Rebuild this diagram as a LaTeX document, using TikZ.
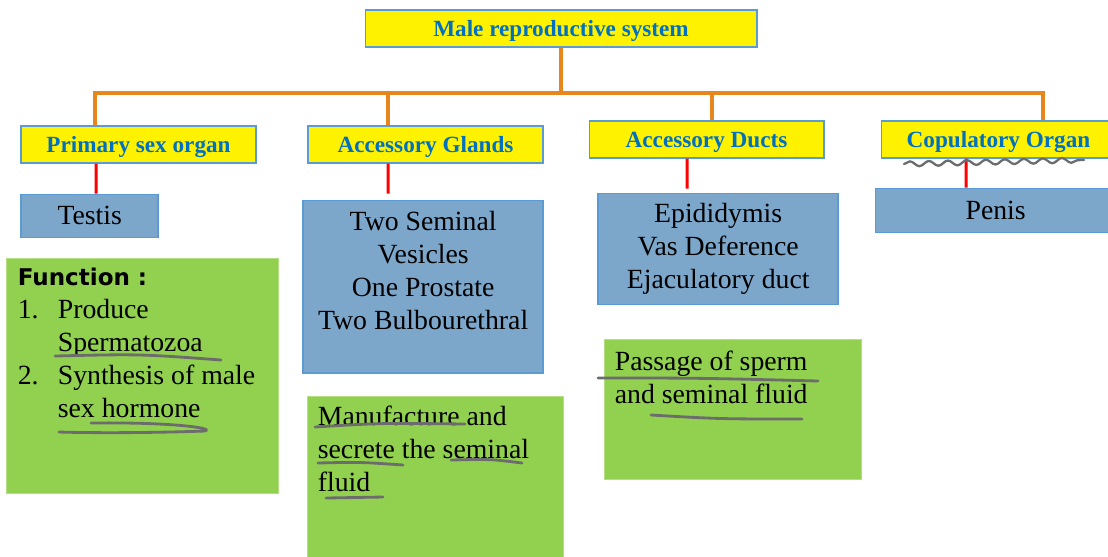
\documentclass[tikz,border=0pt]{standalone}
\usepackage{fontspec}
\setmainfont{Liberation Serif}
\newfontfamily\fnfont{DejaVu Sans}
\usepackage{xcolor}
\usepackage{tikz}
\usetikzlibrary{positioning, calc, decorations.pathmorphing}
\definecolor{headblue}{RGB}{0,112,192}
\definecolor{edgeblue}{RGB}{91,155,213}
\definecolor{steel}{RGB}{124,167,203}
\definecolor{leaf}{RGB}{146,208,80}
\definecolor{busorange}{RGB}{232,134,30}
\definecolor{inkgray}{RGB}{108,108,108}
\newcommand{\bodyfont}{\fontsize{15.8}{18.8}\selectfont}
\newcommand{\headfont}{\fontsize{13.2}{16}\selectfont\bfseries}
\tikzset{
        headbox/.style={rectangle, draw=edgeblue, fill=yellow, line width=0.6pt, minimum width=4.7cm, minimum height=0.74cm, inner sep=0pt, text height=0.32cm, text depth=0pt, font=\headfont, text=headblue},
        bluebox/.style={rectangle, draw=edgeblue, fill=steel, line width=0.8pt, inner sep=0pt, align=center, font=\bodyfont, anchor=north west},
        greenbox/.style={rectangle, draw=leaf!70!white, fill=leaf, line width=0.5pt, inner sep=0pt, anchor=north west},
        notetext/.style={anchor=base west, inner sep=0pt, align=left, font=\bodyfont},
        orangeline/.style={busorange, line width=2pt},
        redline/.style={red, line width=1.7pt},
        penmark/.style={inkgray, line width=1.6pt, line cap=round},
    }
\begin{document}
\begin{tikzpicture}[x=0.02cm, y=-0.02cm]
        \useasboundingbox (0,0) rectangle (1108,556);

        % Title
        \node[headbox, minimum width=7.84cm] (title) at (561,28.5) {Male reproductive system};

        % Four branches
        \node[headbox] (primary) at (138.5,144.5) {Primary sex organ};
        \node[headbox, right=1.02cm of primary] (glands) {Accessory Glands};
        \node[headbox, right=0.9cm of glands, yshift=0.1cm] (ducts) {Accessory Ducts};
        \node[headbox, right=1.12cm of ducts] (copulatory) {Copulatory Organ};

        % Organs
        \node[bluebox, minimum width=2.74cm, minimum height=0.86cm, below right=0.6cm and 0cm of primary.south west] (testis) {Testis};
        \node[bluebox, minimum width=4.8cm, minimum height=3.46cm, below right=0.72cm and -0.1cm of glands.south west] (seminal) {Two Seminal\\Vesicles\\One Prostate\\Two Bulbourethral\\ \mbox{}};
        \node[bluebox, minimum width=4.8cm, minimum height=2.22cm, below right=0.68cm and 0.18cm of ducts.south west] (ductsbox) {Epididymis\\Vas Deference\\Ejaculatory duct};
        \node[bluebox, minimum width=4.82cm, minimum height=0.88cm, below right=0.58cm and -0.12cm of copulatory.south west] (penis) {Penis};

        % Notes (base anchor = last line)
        \node[greenbox, minimum width=5.44cm, minimum height=4.7cm, below right=0.4cm and -0.28cm of testis.south west] (fnbox) {};
        \node[greenbox, minimum width=5.12cm, minimum height=3.4cm, below right=0.44cm and 0.1cm of seminal.south west] (mfbox) {};
        \node[greenbox, minimum width=5.14cm, minimum height=2.8cm, below right=0.68cm and 0.14cm of ductsbox.south west] (psbox) {};

        \node[notetext] (fntext) at ([shift={(11,160)}]fnbox.north west) {{\fnfont\bfseries\fontsize{13.1}{18.8}\selectfont Function :}\\\makebox[0.8cm][l]{1.}Produce\\\hspace*{0.8cm}Spermatozoa\\\makebox[0.8cm][l]{2.}Synthesis of male\\\hspace*{0.8cm}sex hormone};
        \node[notetext] (mftext) at ([shift={(10,96)}]mfbox.north west) {Manufacture and\\secrete the seminal\\fluid};
        \node[notetext] (pstext) at ([shift={(10,65)}]psbox.north west) {Passage of sperm\\and seminal fluid};

        % Links
        \coordinate (bus) at (561,93);
        \draw[orangeline] (title.south) -- (title.south |- bus);
        \draw[orangeline] ([xshift=-0.87cm]primary.north) |- (bus) -| ([xshift=0.89cm]copulatory.north);
        \draw[orangeline] ([xshift=-0.75cm]glands.north) -- ([xshift=-0.75cm]glands.north |- bus);
        \draw[orangeline] ([xshift=0.11cm]ducts.north) -- ([xshift=0.11cm]ducts.north |- bus);

        \draw[redline] ([xshift=-0.85cm]primary.south) -- ([xshift=0.13cm]testis.north);
        \draw[redline] ([xshift=-0.75cm]glands.south) -- ([xshift=-0.7cm, yshift=0.12cm]seminal.north);
        \draw[redline] ([xshift=-0.39cm]ducts.south) -- ([xshift=-0.62cm, yshift=0.08cm]ductsbox.north);
        \draw[redline] ([xshift=-0.65cm]copulatory.south) -- ([xshift=-0.59cm]penis.north);

        % Pen marks
        \draw[penmark] (55,356) .. controls (140,354) .. (221,360);
        \draw[penmark] (91,423) .. controls (170,422) and (215,428) .. (205,431) .. controls (150,433) and (90,433) .. (59,432);
        \draw[penmark] (315,427) .. controls (380,423) .. (465,424);
        \draw[penmark] (318,463) .. controls (360,462) .. (403,465);
        \draw[penmark] (451,460) .. controls (490,459) .. (522,463);
        \draw[penmark] (326,498) .. controls (355,497) .. (383,497);
        \draw[penmark] (598,378) .. controls (700,378) .. (818,381);
        \draw[penmark] (651,415) .. controls (720,419) .. (802,419);
        \draw[penmark, line width=1.3pt, decorate, decoration={snake, amplitude=0.05cm, segment length=0.38cm}] (904,164) -- (1084,160);
    \end{tikzpicture}
\end{document}
